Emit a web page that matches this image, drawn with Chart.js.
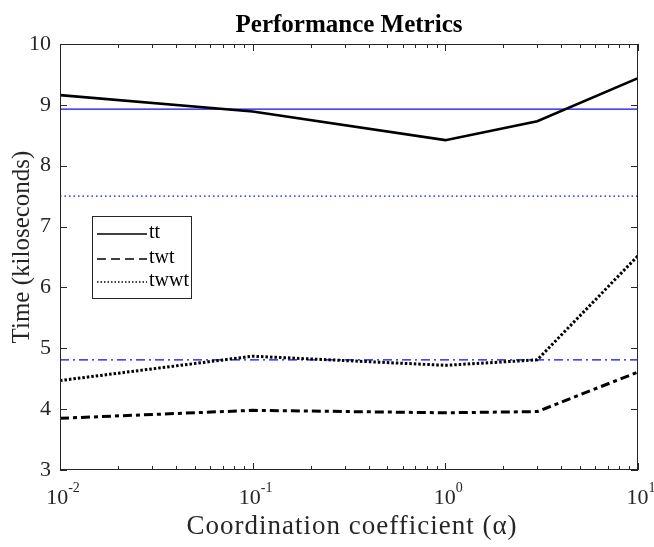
<!DOCTYPE html>
<html>
<head>
<meta charset="utf-8">
<script src="https://cdn.jsdelivr.net/npm/chart.js@4.4.1/dist/chart.umd.min.js"></script>
<style>
  html, body { margin: 0; padding: 0; background: #fff; }
  #wrap { width: 654px; height: 547px; }
</style>
</head>
<body>
<div id="wrap"><canvas id="perfChart" width="654" height="547"></canvas></div>
<script>
// coordination coefficient values (log x axis)
const alphas = [0.01, 0.1, 1, 3, 10];
const ttVals = [9.16, 8.89, 8.42, 8.73, 9.44];
const twtVals = [3.85, 3.98, 3.94, 3.96, 4.61];
const twwtVals = [4.47, 4.87, 4.72, 4.81, 6.52];
// baseline reference levels (blue horizontal lines)
const refSolid = 8.93;
const refDotted = 7.5;
const refDashDot = 4.81;
const xRange = [0.01, 10];
const yTicks = [3, 4, 5, 6, 7, 8, 9, 10];
const xDecades = [-2, -1, 0, 1];

const serif = '"Liberation Serif", "DejaVu Serif", serif';
const blue = '#0a0af5';

function pts(vals) {
    return alphas.map((a, i) => ({ x: a, y: vals[i] }));
}
function hline(v) {
    return [{ x: xRange[0], y: v }, { x: xRange[1], y: v }];
}

const legendItems = [
    { label: 'tt', dash: [] },
    { label: 'twt', dash: [9, 5] },
    { label: 'twwt', dash: [1.5, 2] }
];

// axes box, inward ticks, tick labels, titles and legend
const matlabLook = {
    id: 'matlabLook',
    afterDraw(chart) {
        const ctx = chart.ctx;
        const a = chart.chartArea;
        const xs = chart.scales.x, ys = chart.scales.y;
        ctx.save();
        ctx.strokeStyle = '#262626';
        ctx.lineWidth = 1;
        ctx.setLineDash([]);
        ctx.strokeRect(a.left + 0.5, a.top + 0.5, a.right - a.left - 1, a.bottom - a.top - 1);

        ctx.beginPath();
        xDecades.forEach(d => {
            for (let m = 1; m <= 9; m++) {
                const v = m * Math.pow(10, d);
                if (v > xRange[1] + 1e-9) continue;
                const px = Math.round(xs.getPixelForValue(v)) + 0.5;
                const len = m === 1 ? 7 : 4;
                ctx.moveTo(px, a.bottom); ctx.lineTo(px, a.bottom - len);
                ctx.moveTo(px, a.top); ctx.lineTo(px, a.top + len);
            }
        });
        yTicks.forEach(t => {
            const py = Math.round(ys.getPixelForValue(t)) + 0.5;
            ctx.moveTo(a.left, py); ctx.lineTo(a.left + 7, py);
            ctx.moveTo(a.right, py); ctx.lineTo(a.right - 7, py);
        });
        ctx.stroke();

        // x tick labels 10^n
        ctx.fillStyle = '#262626';
        ctx.textBaseline = 'alphabetic';
        xDecades.forEach(d => {
            const px = xs.getPixelForValue(Math.pow(10, d));
            ctx.font = '22px ' + serif;
            const wb = ctx.measureText('10').width;
            ctx.font = '14px ' + serif;
            const we = ctx.measureText(String(d)).width;
            const x0 = px - (wb + we) / 2 + 3;
            ctx.font = '22px ' + serif;
            ctx.textAlign = 'left';
            ctx.fillText('10', x0, a.bottom + 34);
            ctx.font = '14px ' + serif;
            ctx.fillText(String(d), x0 + wb, a.bottom + 22);
        });

        // x axis title
        ctx.font = '27px ' + serif;
        ctx.letterSpacing = '1px';
        ctx.textAlign = 'center';
        ctx.fillText('Coordination coefficient (\u03b1)', 352, 534);
        ctx.letterSpacing = '0px';

        // y axis title
        ctx.save();
        ctx.translate(29, 247);
        ctx.rotate(-Math.PI / 2);
        ctx.font = '25px ' + serif;
        ctx.textAlign = 'center';
        ctx.fillText('Time (kiloseconds)', 0, 0);
        ctx.restore();

        // title
        ctx.font = 'bold 25px ' + serif;
        ctx.fillStyle = '#000';
        ctx.textAlign = 'center';
        ctx.fillText('Performance Metrics', 349, 32);

        // legend
        const lx = 92, ly = 216, lw = 99, lh = 82;
        ctx.fillStyle = '#fff';
        ctx.fillRect(lx, ly, lw, lh);
        ctx.strokeStyle = '#262626';
        ctx.lineWidth = 1;
        ctx.strokeRect(lx + 0.5, ly + 0.5, lw, lh);
        const rows = [234, 259, 282];
        legendItems.forEach((it, i) => {
            ctx.strokeStyle = '#000';
            ctx.lineWidth = 1.3;
            ctx.setLineDash(it.dash);
            ctx.beginPath();
            ctx.moveTo(97, rows[i]); ctx.lineTo(147, rows[i]);
            ctx.stroke();
            ctx.setLineDash([]);
            ctx.fillStyle = '#000';
            ctx.font = '20px ' + serif;
            ctx.textAlign = 'left';
            ctx.textBaseline = 'middle';
            ctx.fillText(it.label, 149, rows[i] - 1);
        });
        ctx.restore();
    }
};

const ctx = document.getElementById('perfChart').getContext('2d');
new Chart(ctx, {
    type: 'line',
    data: {
        datasets: [
            { label: 'tt', data: pts(ttVals), borderColor: '#000', borderWidth: 2.6, pointRadius: 0, tension: 0 },
            { label: 'twt', data: pts(twtVals), borderColor: '#000', borderWidth: 3, borderDash: [9, 4, 4, 4], pointRadius: 0, tension: 0 },
            { label: 'twwt', data: pts(twwtVals), borderColor: '#000', borderWidth: 3, borderDash: [2.5, 2], pointRadius: 0, tension: 0 },
            { label: 'ref1', data: hline(refSolid), borderColor: blue, borderWidth: 1.2, pointRadius: 0 },
            { label: 'ref2', data: hline(refDotted), borderColor: blue, borderWidth: 1.3, borderDash: [1.5, 3], pointRadius: 0 },
            { label: 'ref3', data: hline(refDashDot), borderColor: blue, borderWidth: 1.3, borderDash: [9, 4, 2, 4], pointRadius: 0 }
        ]
    },
    options: {
        responsive: false,
        animation: false,
        layout: { padding: { top: 44, right: 16, left: 0, bottom: 0 } },
        plugins: { legend: { display: false }, title: { display: false }, tooltip: { enabled: false } },
        scales: {
            x: {
                type: 'logarithmic', min: xRange[0], max: xRange[1],
                grid: { display: false, drawTicks: false },
                border: { display: false },
                ticks: { display: false },
                afterFit: s => { s.height = 77; }
            },
            y: {
                min: 3, max: 10,
                grid: { display: false, drawTicks: false },
                border: { display: false },
                afterBuildTicks: s => { s.ticks = yTicks.map(v => ({ value: v })); },
                ticks: { color: '#262626', font: { family: serif, size: 22 }, padding: 9 },
                afterFit: s => { s.width = 60; }
            }
        }
    },
    plugins: [matlabLook]
});
</script>
</body>
</html>
